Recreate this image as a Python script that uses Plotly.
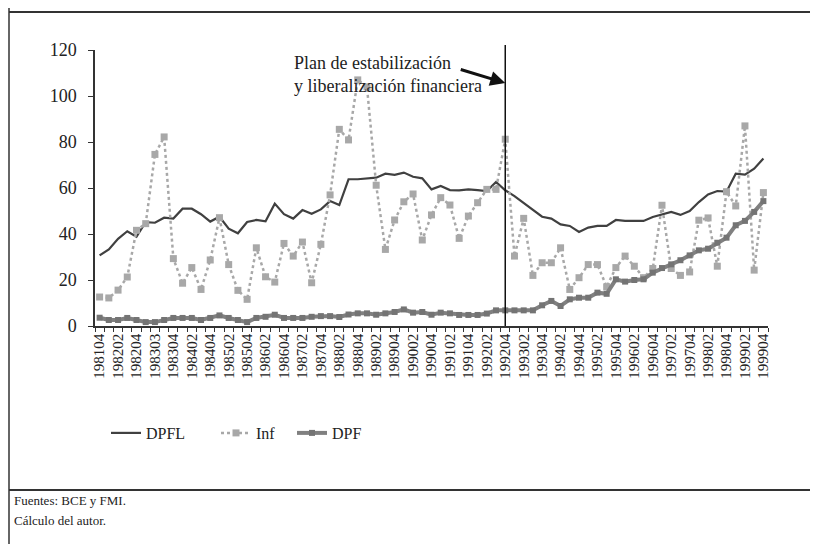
import plotly.graph_objects as go

# ---------------- data ----------------
periods_idx = list(range(73))  # 1981Q4 .. 1999Q4 (quarterly)

tick_labels = ["198104", "198202", "198204", "198303", "198304", "198402", "198404",
               "198502", "198504", "198602", "198604", "198702", "198704", "198802",
               "198804", "198902", "198904", "199002", "199004", "199102", "199104",
               "199202", "199204", "199302", "199304", "199402", "199404", "199502",
               "199504", "199602", "199604", "199702", "199704", "199802", "199804",
               "199902", "199904"]

dpfl = [30.7, 33.3, 37.9, 41.2, 38.8, 45.2, 44.9, 47.1, 46.7, 51.0,
        51.0, 48.6, 45.4, 47.5, 42.3, 40.3, 45.2, 46.1, 45.5, 53.2,
        48.6, 46.7, 50.4, 48.8, 50.7, 54.3, 52.6, 63.8, 63.8, 64.2,
        64.5, 66.2, 65.7, 66.7, 64.9, 64.2, 59.4, 60.9, 59.1, 59.0,
        59.4, 59.1, 58.7, 62.6, 59.0, 56.5, 53.6, 50.4, 47.5, 46.7,
        44.2, 43.5, 40.9, 42.8, 43.5, 43.5, 46.1, 45.7, 45.7, 45.7,
        47.4, 48.6, 49.6, 48.3, 50.0, 53.9, 57.2, 58.7, 58.4, 66.2,
        65.8, 68.4, 72.8]

inf = [12.6, 12.2, 15.6, 21.3, 41.6, 44.5, 74.6, 82.2, 29.3, 18.6,
       25.4, 15.9, 28.7, 47.1, 26.7, 15.5, 11.6, 34.0, 21.4, 19.1,
       35.9, 30.4, 36.5, 18.8, 35.5, 57.0, 85.5, 80.9, 107.0, 104.0,
       61.2, 33.3, 46.1, 54.0, 57.4, 37.4, 48.3, 55.8, 52.6, 38.1,
       47.8, 53.6, 59.4, 59.4, 81.2, 30.4, 46.8, 22.0, 27.5, 27.5,
       34.0, 15.9, 21.0, 26.7, 26.7, 17.0, 25.4, 30.4, 26.0, 21.0,
       25.0, 52.5, 25.0, 22.0, 23.5, 46.0, 47.0, 26.0, 58.4, 52.2,
       87.0, 24.3, 58.0]

dpf = [3.6, 2.6, 2.6, 3.5, 2.6, 1.7, 1.7, 2.6, 3.5, 3.5,
       3.5, 2.6, 3.5, 4.6, 3.5, 2.6, 1.7, 3.5, 4.0, 4.9,
       3.5, 3.5, 3.5, 4.0, 4.3, 4.3, 3.9, 5.0, 5.5, 5.5,
       4.9, 5.5, 6.1, 7.2, 5.8, 6.1, 4.9, 5.8, 5.5, 4.8,
       4.8, 4.8, 5.4, 6.8, 6.8, 6.8, 6.8, 6.8, 9.0, 10.9,
       8.7, 11.6, 12.3, 12.3, 14.5, 14.0, 20.3, 19.3, 20.0, 20.3,
       23.2, 25.2, 26.8, 28.6, 30.7, 32.9, 33.6, 36.2, 38.4, 43.8,
       45.7, 49.6, 54.3]

event_index = 44  # 199204
y_ticks = [0, 20, 40, 60, 80, 100, 120]

# ---------------- layout helpers ----------------
# the page body adds an 8px offset; positions below are given in screen px
OFF = 8
W, H = 818, 544
L, R, T, B = 87, 58, 42, 226
PW, PH = W - L - R, H - T - B


def px_x(sx):
    return (sx - OFF - L) / PW


def px_y(sy):
    return (H - B - (sy - OFF)) / PH


FONT = "Liberation Serif"
TXT = "#222222"

fig = go.Figure()
fig.add_trace(go.Scatter(x=periods_idx, y=dpfl, name="DPFL", mode="lines",
                         legend="legend", showlegend=True,
                         line=dict(color="#404040", width=2.2)))
fig.add_trace(go.Scatter(x=periods_idx, y=inf, name="Inf", mode="lines+markers",
                         legend="legend2", showlegend=True,
                         line=dict(color="#a8a8a8", width=2.5, dash="dot"),
                         marker=dict(symbol="square", size=7, color="#a8a8a8")))
fig.add_trace(go.Scatter(x=periods_idx, y=dpf, name="DPF", mode="lines+markers",
                         legend="legend3", showlegend=True,
                         line=dict(color="#808080", width=4),
                         marker=dict(symbol="square", size=6, color="#747474")))

line_col = "#333333"
shapes = [
    # vertical event line
    dict(type="line", xref="x", yref="paper", x0=event_index, x1=event_index,
         y0=0, y1=px_y(45), line=dict(color="#111111", width=1.5)),
    # frame: top rule, left border, bottom rule
    dict(type="line", xref="paper", yref="paper", x0=px_x(9), x1=px_x(830),
         y0=px_y(12), y1=px_y(12), line=dict(color=line_col, width=2)),
    dict(type="line", xref="paper", yref="paper", x0=px_x(9), x1=px_x(9),
         y0=px_y(0), y1=px_y(560), line=dict(color=line_col, width=1.5)),
    dict(type="line", xref="paper", yref="paper", x0=px_x(9), x1=px_x(830),
         y0=px_y(490), y1=px_y(490), line=dict(color=line_col, width=2)),
]

annotations = [
    dict(xref="paper", yref="paper", x=px_x(292), y=px_y(75), xanchor="left",
         yanchor="middle", align="left", showarrow=False,
         text="Plan de estabilización<br>y liberalización financiera",
         font=dict(family=FONT, size=18, color=TXT)),
    dict(xref="x", yref="y", x=event_index, y=(326 - 83) / PH * 120,
         text="", showarrow=True, ax=-46, ay=-14, arrowhead=2, arrowsize=1,
         arrowwidth=3, arrowcolor="#111111", standoff=0),
    dict(xref="paper", yref="paper", x=px_x(12), y=px_y(500), xanchor="left",
         yanchor="middle", showarrow=False, text="Fuentes: BCE y FMI.",
         font=dict(family=FONT, size=13, color=TXT)),
    dict(xref="paper", yref="paper", x=px_x(12), y=px_y(520), xanchor="left",
         yanchor="middle", showarrow=False, text="Cálculo del autor.",
         font=dict(family=FONT, size=13, color=TXT)),
]


def leg(sx):
    return dict(visible=True, orientation="h", x=px_x(sx), y=px_y(433),
                xanchor="left", yanchor="middle",
                font=dict(family=FONT, size=16, color=TXT),
                bgcolor="rgba(0,0,0,0)", borderwidth=0)


fig.update_layout(
    width=W, height=H,
    margin=dict(l=L, r=R, t=T, b=B),
    paper_bgcolor="white", plot_bgcolor="white",
    font=dict(family=FONT, color=TXT),
    showlegend=True,
    shapes=shapes, annotations=annotations,
    legend=leg(106), legend2=leg(216), legend3=leg(292),
    xaxis=dict(range=[-0.5, 72.5], tickmode="array",
               tickvals=periods_idx[::2], ticktext=tick_labels, tickangle=-90,
               ticks="", showline=True, linecolor=line_col, linewidth=1.5,
               showgrid=False, zeroline=False,
               tickfont=dict(family=FONT, size=15, color=TXT),
               minor=dict(tickmode="array",
                          tickvals=[i - 0.5 for i in range(74)],
                          ticks="outside", ticklen=4, tickcolor=line_col,
                          tickwidth=1, showgrid=False)),
    yaxis=dict(range=[0, 120], tickmode="array", tickvals=y_ticks,
               ticks="outside", ticklen=5, tickcolor=line_col, tickwidth=1,
               showline=True, linecolor=line_col, linewidth=1.5,
               showgrid=False, zeroline=False, ticklabelstandoff=8,
               tickfont=dict(family=FONT, size=18, color=TXT)),
)

fig.write_html("out.html")
